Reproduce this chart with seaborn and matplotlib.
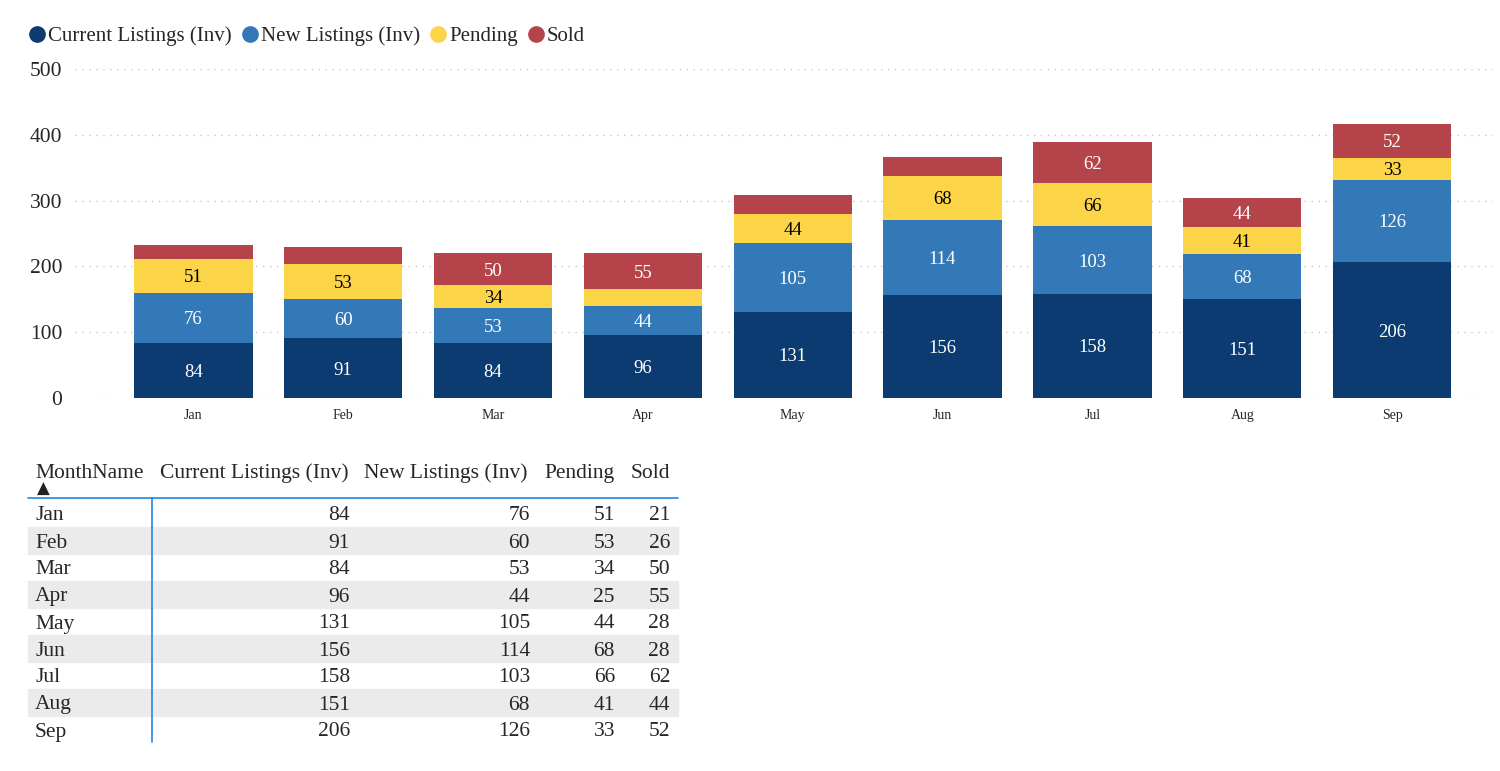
import numpy as np
import pandas as pd
import matplotlib
matplotlib.use("Agg")
import matplotlib.pyplot as plt
import seaborn as sns
from matplotlib.lines import Line2D
from matplotlib.patches import Rectangle

months = ["Jan", "Feb", "Mar", "Apr", "May", "Jun", "Jul", "Aug", "Sep"]
current = [84, 91, 84, 96, 131, 156, 158, 151, 206]
new = [76, 60, 53, 44, 105, 114, 103, 68, 126]
pending = [51, 53, 34, 25, 44, 68, 66, 41, 33]
sold = [21, 26, 50, 55, 28, 28, 62, 44, 52]

series = ["Current Listings (Inv)", "New Listings (Inv)", "Pending", "Sold"]
colors = ["#0b3b70", "#3379b8", "#fcd447", "#b5444a"]
text_colors = ["white", "white", "black", "white"]

df = pd.DataFrame({"MonthName": months, series[0]: current, series[1]: new,
                   series[2]: pending, series[3]: sold})

sns.set_theme(style="white")
plt.rcParams["font.family"] = ["Liberation Serif", "DejaVu Serif"]

fig = plt.figure(figsize=(15, 7.71), dpi=100)
ax = fig.add_axes([0.05, 0.4838, 0.945, 0.4267])

# stacked bars: draw cumulative totals from the top series down
cum = df[series].cumsum(axis=1)
for i in range(len(series) - 1, -1, -1):
    sns.barplot(x=df["MonthName"], y=cum[series[i]], color=colors[i],
                width=0.79, saturation=1, ax=ax, edgecolor="none", linewidth=0)

# segment labels (small segments are left unlabeled)
for i, s in enumerate(series):
    bottoms = cum[s] - df[s]
    for j in range(len(months)):
        v = df[s].iloc[j]
        if v < 30:
            continue
        ax.text(j, bottoms.iloc[j] + v / 2 - 3, str(v), ha="center", va="center",
                color=text_colors[i], fontsize=13.5)

ax.set_ylim(0, 500)
ax.set_xlim(-0.79, 8.67)
ax.set_yticks(range(0, 501, 100))
ax.set_xlabel("")
ax.set_ylabel("")
ax.grid(axis="y", color="#c8c8c8", linestyle=(0, (1, 4)), linewidth=1)
ax.set_axisbelow(True)
for sp in ax.spines.values():
    sp.set_visible(False)
ax.tick_params(axis="y", labelsize=15.5, length=0, pad=9)
ax.tick_params(axis="x", labelsize=10, length=0, pad=8)

handles = [Line2D([0], [0], marker="o", color="none", markerfacecolor=c,
                  markeredgecolor=c, markersize=11) for c in colors]
fig.legend(handles, series, loc="upper left", bbox_to_anchor=(0.012, 0.977),
           ncol=4, frameon=False, fontsize=15, handletextpad=0.05,
           columnspacing=0.35, handlelength=1.0, borderaxespad=0)

# table below the chart
def fy(px):
    return 1 - px / 771

def fx(px):
    return px / 1500

row_h = 27
first_row = 513
for j in range(len(months)):
    if j % 2 == 1:
        fig.patches.append(Rectangle((fx(28), fy(first_row + j * row_h + 13.5)),
                                     fx(678) - fx(28), row_h / 771,
                                     transform=fig.transFigure, color="#ebebeb",
                                     zorder=0))

fig.add_artist(Line2D([fx(28), fx(678)], [fy(498), fy(498)], color="#1e88e5",
                      linewidth=1.2, transform=fig.transFigure))
fig.add_artist(Line2D([fx(152), fx(152)], [fy(498), fy(742)], color="#1e88e5",
                      linewidth=1.2, transform=fig.transFigure))

header_x = [35, 160, 364, 544, 631]
fig.text(fx(header_x[0]), fy(473), "MonthName", fontsize=15.5, ha="left", va="center")
for k, s in enumerate(series):
    fig.text(fx(header_x[k + 1]), fy(473), s, fontsize=15.5, ha="left", va="center")
fig.text(fx(43), fy(489), "\u25b2", fontsize=12, ha="center", va="center",
         family=["DejaVu Sans"], color="#222222")

col_right = [350, 530, 615, 670]
for j, m in enumerate(months):
    y = fy(first_row + 3 + j * row_h)
    fig.text(fx(35), y, m, fontsize=15.5, ha="left", va="center")
    for k, s in enumerate(series):
        fig.text(fx(col_right[k]), y, str(df[s].iloc[j]), fontsize=15.5,
                 ha="right", va="center")

fig.savefig("out.png", dpi=100, facecolor="white")
